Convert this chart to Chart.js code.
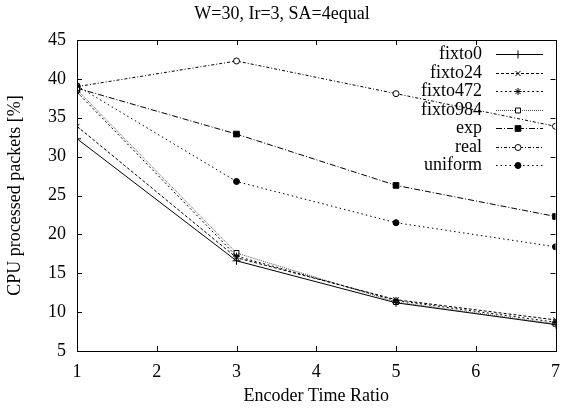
<!DOCTYPE html>
<html><head><meta charset="utf-8">
<script src="https://cdn.jsdelivr.net/npm/chart.js@4/dist/chart.umd.min.js"></script>
<style>html,body{margin:0;padding:0;background:#fff}#wrap{width:570px;height:410px}</style>
</head><body><div id="wrap"><canvas id="c" width="570" height="410"></canvas></div>
<script>
const titleText = "W=30, Ir=3, SA=4equal";
const xTitle = "Encoder Time Ratio";
const yTitle = "CPU processed packets [%]";
const ratios = [1, 3, 5, 7];
const seriesNames = ["fixto0", "fixto24", "fixto472", "fixto984", "exp", "real", "uniform"];
const fixto0 = [32.3, 16.6, 11.2, 8.4];
const fixto24 = [33.9, 17.0, 11.6, 9.0];
const fixto472 = [38.3, 17.2, 11.5, 8.7];
const fixto984 = [38.6, 17.6, 11.3, 8.5];
const expVals = [38.8, 32.9, 26.3, 22.3];
const realVals = [39.0, 42.3, 38.1, 33.9];
const uniformVals = [39.1, 26.8, 21.5, 18.4];
const xTicks = [1, 2, 3, 4, 5, 6, 7];
const yTicks = [5, 10, 15, 20, 25, 30, 35, 40, 45];

const values = [fixto0, fixto24, fixto472, fixto984, expVals, realVals, uniformVals];
const styles = [
  {dash: [], marker: 'cross', fill: '#000', r: 4, color: '#000'},
  {dash: [3, 2], marker: 'crossRot', fill: '#000', r: 3.5, color: '#000'},
  {dash: [2, 2.5], marker: 'star', fill: '#000', r: 3.5, color: '#000'},
  {dash: [1, 1], marker: 'rect', fill: '#fff', r: 3.5, color: '#555'},
  {dash: [6, 2, 1, 2], marker: 'rect', fill: '#000', r: 4, color: '#000'},
  {dash: [3, 2, 1, 2], marker: 'circle', fill: '#fff', r: 3, color: '#000'},
  {dash: [1.5, 3], marker: 'circle', fill: '#000', r: 3, color: '#000'}
];

const datasets = seriesNames.map((name, i) => ({
  label: name,
  data: ratios.map((x, j) => ({x: x, y: values[i][j]})),
  borderColor: styles[i].color,
  borderWidth: 1,
  borderDash: styles[i].dash,
  pointStyle: styles[i].marker,
  pointRadius: styles[i].r,
  pointBorderColor: '#000',
  pointBackgroundColor: styles[i].fill,
  pointBorderWidth: 1,
  tension: 0,
  fill: false
}));

const FONT = "'Liberation Serif', 'Times New Roman', serif";
const FS = 18;

function drawMarker(ctx, style, r, fill, x, y) {
  ctx.save();
  ctx.strokeStyle = '#000';
  ctx.fillStyle = fill;
  ctx.lineWidth = 1;
  ctx.setLineDash([]);
  if (Chart.helpers && Chart.helpers.drawPoint) {
    Chart.helpers.drawPoint(ctx, {pointStyle: style, radius: r, rotation: 0, borderWidth: 1}, x, y);
  } else {
    ctx.beginPath();
    ctx.arc(x, y, r, 0, Math.PI * 2);
    ctx.fill(); ctx.stroke();
  }
  ctx.restore();
}

const framePlugin = {
  id: 'frame',
  afterDatasetsDraw(chart) {
    const ctx = chart.ctx, a = chart.chartArea;
    const xs = chart.scales.x, ys = chart.scales.y;
    ctx.save();
    ctx.strokeStyle = '#000';
    ctx.lineWidth = 1;
    ctx.setLineDash([]);
    ctx.strokeRect(Math.round(a.left) + 0.5, Math.round(a.top) + 0.5, Math.round(a.right - a.left), Math.round(a.bottom - a.top));
    const L = 5;
    ctx.beginPath();
    xs.ticks.forEach(t => {
      const px = Math.round(xs.getPixelForValue(t.value)) + 0.5;
      ctx.moveTo(px, a.bottom); ctx.lineTo(px, a.bottom - L);
      ctx.moveTo(px, a.top); ctx.lineTo(px, a.top + L);
    });
    ys.ticks.forEach(t => {
      const py = Math.round(ys.getPixelForValue(t.value)) + 0.5;
      ctx.moveTo(a.left, py); ctx.lineTo(a.left + L, py);
      ctx.moveTo(a.right, py); ctx.lineTo(a.right - L, py);
    });
    ctx.stroke();
    // legend
    const textRight = 482, lx0 = 496, lx1 = 543, mx = 518, top = 54, step = 18.5;
    ctx.font = FS + "px " + FONT;
    ctx.textAlign = 'right';
    ctx.textBaseline = 'middle';
    ctx.fillStyle = '#000';
    chart.data.datasets.forEach((ds, i) => {
      const y = Math.round(top + i * step) + 0.5;
      ctx.fillText(ds.label, textRight, y);
      ctx.save();
      ctx.strokeStyle = ds.borderColor;
      ctx.setLineDash(ds.borderDash);
      ctx.beginPath(); ctx.moveTo(lx0, y); ctx.lineTo(lx1, y); ctx.stroke();
      ctx.restore();
      drawMarker(ctx, ds.pointStyle, ds.pointRadius, ds.pointBackgroundColor, mx, y);
    });
    ctx.restore();
  }
};

new Chart(document.getElementById('c'), {
  type: 'line',
  data: {datasets: datasets},
  options: {
    responsive: false,
    animation: false,
    layout: {padding: {left: 0, right: 6, top: 0, bottom: 0}},
    plugins: {
      legend: {display: false},
      tooltip: {enabled: false},
      title: {
        display: true, text: titleText, color: '#000',
        font: {family: FONT, size: FS, weight: 'normal', lineHeight: 1.2},
        padding: {top: 3, bottom: 15.4}
      }
    },
    scales: {
      x: {
        type: 'linear', min: 1, max: 7,
        afterBuildTicks: s => { s.ticks = xTicks.map(v => ({value: v})); },
        afterFit: s => { s.height = 59; },
        grid: {display: false, drawTicks: false},
        border: {display: false},
        ticks: {color: '#000', padding: 10, font: {family: FONT, size: FS}, maxRotation: 0},
        title: {display: true, text: xTitle, color: '#000', font: {family: FONT, size: FS, lineHeight: 1.2}, padding: {top: 0, bottom: 3}}
      },
      y: {
        type: 'linear', min: 5, max: 45,
        afterBuildTicks: s => { s.ticks = yTicks.map(v => ({value: v})); },
        afterFit: s => { s.width = 77; },
        grid: {display: false, drawTicks: false},
        border: {display: false},
        ticks: {color: '#000', padding: 11, font: {family: FONT, size: FS}},
        title: {display: true, text: yTitle, color: '#000', font: {family: FONT, size: FS, lineHeight: 1.2}, padding: {top: 4, bottom: 0}}
      }
    }
  },
  plugins: [framePlugin]
});
</script>
</body></html>
